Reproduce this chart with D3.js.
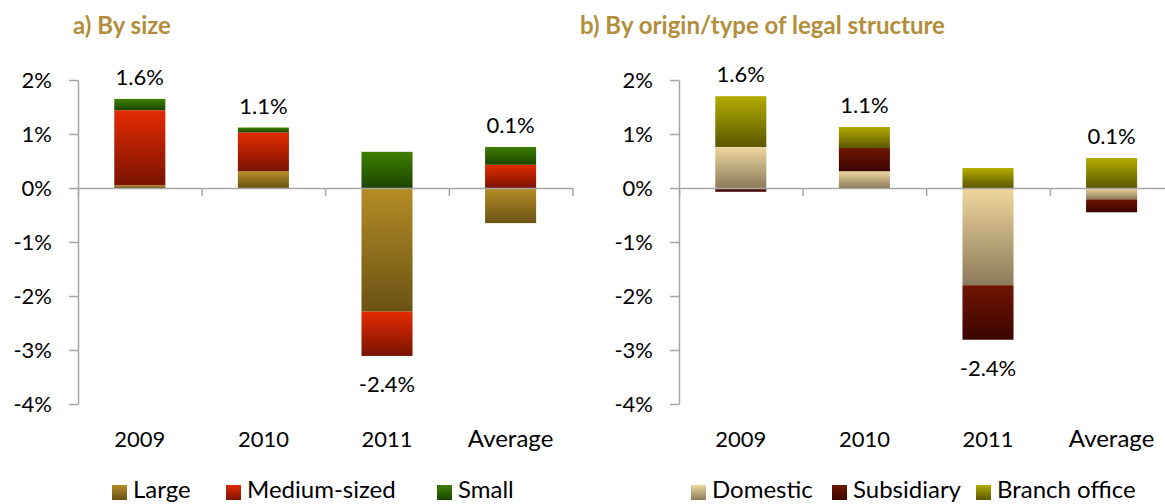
<!DOCTYPE html>
<html>
<head>
<meta charset="utf-8">
<script src="https://cdn.jsdelivr.net/npm/d3@7"></script>
<style>
  html, body { margin: 0; padding: 0; background: #ffffff; }
  svg { display: block; }
  text { font-family: Lato, "Open Sans", sans-serif; }
</style>
</head>
<body>
<svg id="chart" width="1165" height="504"></svg>
<script>
// ---------------- DATA ----------------
const categories = ["2009", "2010", "2011", "Average"];
const yTicks = [2, 1, 0, -1, -2, -3, -4];

// Panel a) By size (percentage points)
const sizeKeys = ["Large", "Medium-sized", "Small"];
const sizeLarge  = [0.05, 0.31, -2.29, -0.65];
const sizeMedium = [1.39, 0.72, -0.82, 0.43];
const sizeSmall  = [0.21, 0.09, 0.67, 0.33];
const sizeTotalLabels = ["1.6%", "1.1%", "-2.4%", "0.1%"];

// Panel b) By origin/type of legal structure
const originKeys = ["Domestic", "Subsidiary", "Branch office"];
const originDomestic   = [0.76, 0.31, -1.80, -0.21];
const originSubsidiary = [-0.07, 0.43, -1.01, -0.24];
const originBranch     = [0.94, 0.39, 0.37, 0.555];
const originTotalLabels = ["1.6%", "1.1%", "-2.4%", "0.1%"];

const titles = ["a) By size", "b) By origin/type of legal structure"];

// ---------------- STYLE ----------------
const gradients = {
  "Large":         ["#b68d26", "#6a5214"],
  "Medium-sized":  ["#e42b00", "#7a1300"],
  "Small":         ["#3d8000", "#1c4500"],
  "Domestic":      ["#efd69d", "#8c7b5a"],
  "Subsidiary":    ["#701500", "#3a0500"],
  "Branch office": ["#b3ac00", "#5a5700"]
};
const axisColor = "#a6a6a6";
const titleColor = "#b38e3a";
const numSize = 22;
const wordSize = 24;

const svg = d3.select("#chart");
const defs = svg.append("defs");
Object.entries(gradients).forEach(([k, c], i) => {
  const g = defs.append("linearGradient")
    .attr("id", "grad" + i)
    .attr("x1", 0).attr("y1", 0).attr("x2", 0).attr("y2", 1);
  g.append("stop").attr("offset", "0%").attr("stop-color", c[0]);
  g.append("stop").attr("offset", "100%").attr("stop-color", c[1]);
  gradients[k].id = "grad" + i;
});

const y = d3.scaleLinear().domain([2, -4]).range([80, 404]);

const panels = [
  { title: titles[0], titleX: 73, keys: sizeKeys,
    series: [sizeLarge, sizeMedium, sizeSmall], labels: sizeTotalLabels,
    x0: 78, legendX: [112, 226, 437] },
  { title: titles[1], titleX: 580, keys: originKeys,
    series: [originDomestic, originSubsidiary, originBranch], labels: originTotalLabels,
    x0: 679, legendX: [691, 832, 976] }
];

const step = 123.6;

panels.forEach(p => {
  const g = svg.append("g");
  const x = d3.scaleBand().domain(categories).range([p.x0, p.x0 + step * categories.length]).paddingInner(0).paddingOuter(0);
  const bw = x.bandwidth() * 0.413;

  // title
  g.append("text").attr("x", p.titleX).attr("y", 34)
    .attr("font-size", 24).attr("font-weight", "bold").attr("fill", titleColor)
    .text(p.title);

  // stacked data
  const rows = categories.map((c, i) => {
    const r = { cat: c };
    p.keys.forEach((k, j) => r[k] = p.series[j][i]);
    return r;
  });
  const stack = d3.stack().keys(p.keys).offset(d3.stackOffsetDiverging)(rows);

  // bars
  stack.forEach(s => {
    g.append("g").selectAll("rect").data(s).join("rect")
      .attr("x", d => x(d.data.cat) + (x.bandwidth() - bw) / 2)
      .attr("width", bw)
      .attr("y", d => y(Math.max(d[0], d[1])))
      .attr("height", d => Math.abs(y(d[0]) - y(d[1])))
      .attr("fill", "url(#" + gradients[s.key].id + ")");
  });

  // y axis
  const yAxis = d3.axisLeft(y).tickValues(yTicks).tickSize(9).tickSizeOuter(0).tickPadding(17)
    .tickFormat(d => d + "%");
  const ya = g.append("g").attr("transform", `translate(${p.x0},0)`).call(yAxis);
  ya.selectAll("path, line").attr("stroke", axisColor).attr("stroke-width", 1.5);
  ya.selectAll("text").attr("font-size", numSize).attr("fill", "#000").attr("font-family", "Lato");

  // x axis line with boundary ticks
  const xb = d3.scaleLinear().domain([0, categories.length]).range([p.x0, p.x0 + step * categories.length]);
  const xAxis = d3.axisBottom(xb).tickValues(d3.range(categories.length + 1)).tickSize(8).tickSizeOuter(0).tickFormat("");
  const xa = g.append("g").attr("transform", `translate(0,${y(0)})`).call(xAxis);
  xa.selectAll("path, line").attr("stroke", axisColor).attr("stroke-width", 1.5);

  // category labels
  g.append("g").selectAll("text").data(categories).join("text")
    .attr("x", d => x(d) + x.bandwidth() / 2).attr("y", 447)
    .attr("text-anchor", "middle")
    .attr("font-size", d => /^\d+$/.test(d) ? numSize : wordSize)
    .attr("fill", "#000")
    .text(d => d);

  // total labels
  categories.forEach((c, i) => {
    const vals = p.series.map(s => s[i]);
    const total = d3.sum(vals);
    const pos = d3.sum(vals.filter(v => v > 0));
    const neg = d3.sum(vals.filter(v => v < 0));
    const ly = total >= 0 ? y(pos) - 14 : y(neg) + 36;
    g.append("text").attr("x", x(c) + x.bandwidth() / 2).attr("y", ly)
      .attr("text-anchor", "middle").attr("font-size", numSize).attr("fill", "#000")
      .text(p.labels[i]);
  });

  // legend
  p.keys.forEach((k, j) => {
    const lx = p.legendX[j];
    g.append("rect").attr("x", lx).attr("y", 485).attr("width", 15).attr("height", 15)
      .attr("fill", "url(#" + gradients[k].id + ")");
    g.append("text").attr("x", lx + 21).attr("y", 498)
      .attr("font-size", wordSize).attr("fill", "#000").text(k);
  });
});
</script>
</body>
</html>
